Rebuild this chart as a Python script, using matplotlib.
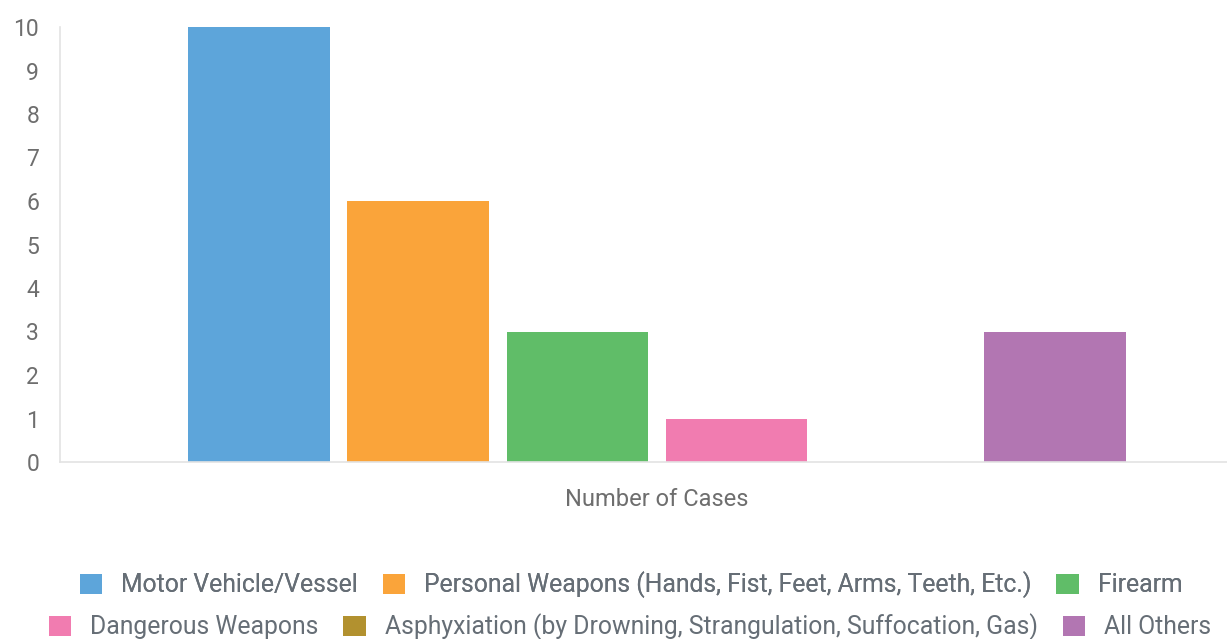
import matplotlib.pyplot as plt
from matplotlib.patches import Patch

plt.rcParams['font.family'] = ['Roboto', 'DejaVu Sans']

category = "Number of Cases"
weapons = ["Motor Vehicle/Vessel",
           "Personal Weapons (Hands, Fist, Feet, Arms, Teeth, Etc.)",
           "Firearm",
           "Dangerous Weapons",
           "Asphyxiation (by Drowning, Strangulation, Suffocation, Gas)",
           "All Others"]
cases = [10, 6, 3, 1, 0, 3]
colors = ["#5DA5DA", "#FAA43A", "#60BD68", "#F17CB0", "#B2912F", "#B276B2"]

fig = plt.figure(figsize=(12.27, 6.39), dpi=100)
ax = fig.add_axes([60/1227, 177/639, 1 - 60/1227, 435/639])

n = len(weapons)
offsets = [i - (n - 1) / 2 for i in range(n)]
for off, val, col in zip(offsets, cases, colors):
    ax.bar(off, val, width=0.89, color=col, edgecolor="none")

ax.set_xlim(-3.75, 3.58)
ax.set_ylim(0, 10)
ax.set_yticks(range(0, 11))
ax.set_xticks([0])
ax.set_xticklabels([category])

for s in ["top", "right"]:
    ax.spines[s].set_visible(False)
for s in ["left", "bottom"]:
    ax.spines[s].set_color("#e3e3e3")
    ax.spines[s].set_linewidth(1.2)
ax.tick_params(axis="y", length=0, pad=15, labelsize=16.5, labelcolor="#6e6e6e")
ax.tick_params(axis="x", length=0, pad=19, labelsize=17, labelcolor="#6e6e6e")

handles = [Patch(facecolor=c, edgecolor="none") for c in colors]
kw = dict(ncol=3, frameon=False, fontsize=17.8, handlelength=0.9, handleheight=0.9,
          handletextpad=0.78, columnspacing=1.0, labelcolor="#666e76", borderpad=0)
leg1 = fig.legend(handles[:3], weapons[:3], loc="center", bbox_to_anchor=(631/1227, 1 - 585/639), **kw)
fig.add_artist(leg1)
leg2 = fig.legend(handles[3:], weapons[3:], loc="center", bbox_to_anchor=(630/1227, 1 - 627/639), **kw)

fig.savefig("out.png", dpi=100)
